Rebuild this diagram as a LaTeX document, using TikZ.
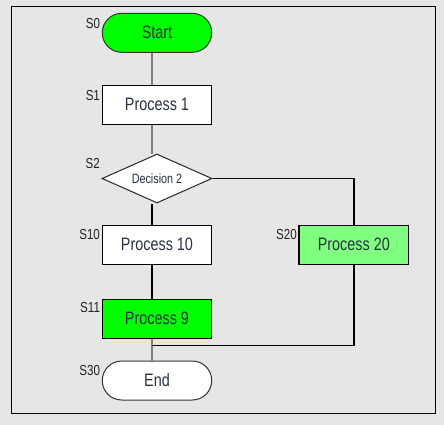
\documentclass[tikz,border=0pt]{standalone}
\usepackage{fontspec}
\setmainfont[FakeStretch=0.8]{Liberation Sans}
\usetikzlibrary{shapes.geometric,calc}
\definecolor{bg}{HTML}{E6E6E6}
\definecolor{txt}{HTML}{2A3140}
\definecolor{labc}{HTML}{222222}
\definecolor{gA}{HTML}{00FF00}
\definecolor{gB}{HTML}{80FF80}
\definecolor{conn}{HTML}{7F7F7F}
\tikzset{
  box/.style={rectangle, draw=black, line width=1.2pt, minimum width=109.5pt, minimum height=39pt, inner sep=0pt, text=txt, font=\fontsize{18}{20}\selectfont},
  term/.style={box, rounded corners=19.5pt, draw=black!80, line width=1pt},
  dec/.style={diamond, draw=black!85, line width=1pt, fill=white, aspect=2.24, minimum width=110pt, minimum height=49pt, inner sep=0pt, text=txt, font=\fontsize{13.5}{16}\selectfont},
  lab/.style={anchor=east, inner sep=0pt, text=labc, font=\fontsize{14.5}{16}\selectfont},
  grayline/.style={draw=conn, line width=2pt},
  blackline/.style={draw=black, line width=1.4pt},
}
\begin{document}
\begin{tikzpicture}[x=1pt,y=-1pt]
\useasboundingbox (0,0) rectangle (444,425);
\fill[bg] (0,0) rectangle (444,425);
\draw[line width=1.5pt] (11.5,6.5) rectangle (435.5,413.5);
\coordinate (axis) at (152,0);
\coordinate (join) at (152,345.3);
\node[term, fill=gA] (start) at (157,32.8) {Start};
\node[box, fill=white] (p1) at (157,104.8) {Process 1};
\node[dec] (d2) at (157,178.5) {Decision 2};
\node[box, fill=white] (p10) at (157,244.8) {Process 10};
\node[box, fill=gB] (p20) at (353.8,244.8) {Process 20};
\node[box, fill=gA] (p9) at (157,318.8) {Process 9};
\node[term, fill=white] (end) at (157,380.5) {End};
\draw[grayline] (start.south -| axis) -- (p1.north -| axis);
\draw[grayline] (p1.south -| axis) -- (d2.north -| axis);
\draw[blackline] (d2.south -| axis) -- (p10.north -| axis);
\draw[blackline] (p10.south -| axis) -- (p9.north -| axis);
\draw[grayline] (p9.south -| axis) -- (end.north -| axis);
\draw[blackline] (d2.east) -| (p20.north);
\draw[blackline] (p20.south) |- (join);
\node[lab] (l0) at ($(start.north west)+(-1.5,11)$) {S0};
\node[lab] (l1) at ($(p1.north west)+(-1.5,11)$) {S1};
\node[lab] (l2) at ($(d2.west |- d2.north)+(-1.5,10)$) {S2};
\node[lab] (l10) at ($(p10.north west)+(-1.5,10)$) {S10};
\node[lab] (l20) at ($(p20.north west)+(-1.5,10)$) {S20};
\node[lab] (l11) at ($(p9.north west)+(-1.5,9)$) {S11};
\node[lab] (l30) at ($(end.north west)+(-1.5,10)$) {S30};
\end{tikzpicture}
\end{document}
